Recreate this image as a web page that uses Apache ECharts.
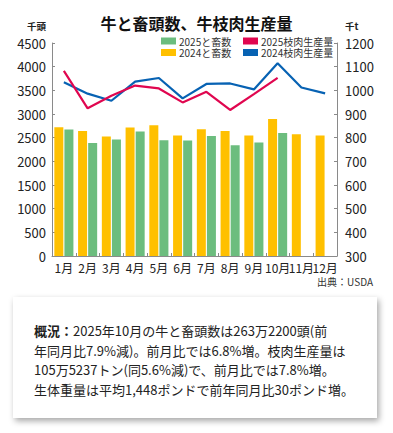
<!DOCTYPE html>
<html><head><meta charset="utf-8">
<script src="https://cdn.jsdelivr.net/npm/echarts@6/dist/echarts.min.js"></script>
<style>html,body{margin:0;padding:0;background:#fff}#c{width:393px;height:433px}</style>
</head><body><div id="c"></div>
<script>
const months = ['1月','2月','3月','4月','5月','6月','7月','8月','9月','10月','11月','12月'];
const slaughter2024 = [2720, 2640, 2525, 2715, 2760, 2545, 2680, 2640, 2545, 2893, 2570, 2545];
const slaughter2025 = [2672, 2385, 2462, 2630, 2448, 2440, 2533, 2342, 2400, 2600, null, null];
const beef2024 = [1034, 986, 956, 1037, 1052, 966, 1027, 1029, 1004, 1114, 1012, 987];
const beef2025 = [1082, 924, 977, 1020, 1008, 949, 994, 917, 984, 1053, null, null];
const leftTicks = {min: 0, max: 4500, interval: 500};
const rightTicks = {min: 300, max: 1200, interval: 100};
const noteLines = [
  '2025年10月の牛と畜頭数は263万2200頭(前',
  '年同月比7.9%減)。前月比では6.8%増。枝肉生産量は',
  '105万5237トン(同5.6%減)で、前月比では7.8%増。',
  '生体重量は平均1,448ポンドで前年同月比30ポンド増。'
];

const FONT = '"Noto Sans CJK JP", "Noto Sans", sans-serif';
const C = {y: '#ffc000', g: '#6cbd7e', r: '#e0064f', b: '#0762b3'};
const chart = echarts.init(document.getElementById('c'), null, {renderer: 'svg'});
const axisLine = {show: true, lineStyle: {color: '#8a8a8a', width: 1}};
const plain = v => String(v);
const legendText = {fontSize: 10, lineHeight: 10, color: '#333', padding: [0, 0, 0, -2]};
chart.setOption({
  backgroundColor: '#fff',
  textStyle: {fontFamily: FONT},
  animation: false,
  title: {text: '牛と畜頭数、牛枝肉生産量', left: 'center', top: 9,
    textStyle: {fontSize: 16, lineHeight: 18, fontWeight: 'bold', color: '#111', fontFamily: FONT}},
  legend: [
    {orient: 'vertical', left: 161, top: 36, padding: 0, itemWidth: 15, itemHeight: 7, itemGap: 1.5,
     icon: 'rect', data: ['2025と畜数', '2024と畜数'], textStyle: legendText},
    {orient: 'vertical', left: 243, top: 36, padding: 0, itemWidth: 15, itemHeight: 7, itemGap: 1.5,
     icon: 'rect', data: ['2025枝肉生産量', '2024枝肉生産量'], textStyle: legendText}
  ],
  grid: {left: 52, right: 56, top: 43, bottom: 177},
  xAxis: {type: 'category', data: months, axisLine: axisLine,
    axisTick: {show: true, inside: true, length: 3, lineStyle: {color: '#8a8a8a'}},
    axisLabel: {interval: 0, fontSize: 12, color: '#222', margin: 5}},
  yAxis: [
    {type: 'value', min: leftTicks.min, max: leftTicks.max, interval: leftTicks.interval,
     name: '千頭', nameLocation: 'end', nameGap: 12,
     nameTextStyle: {fontSize: 9.5, fontWeight: 'bold', color: '#222', align: 'right', padding: [0, 6, 0, 0]},
     axisLine: axisLine, axisTick: {show: true, inside: true, length: 3, lineStyle: {color: '#8a8a8a'}},
     splitLine: {show: false}, axisLabel: {fontSize: 13, color: '#222', margin: 6, formatter: plain}},
    {type: 'value', min: rightTicks.min, max: rightTicks.max, interval: rightTicks.interval,
     name: '千t', nameLocation: 'end', nameGap: 12,
     nameTextStyle: {fontSize: 9.5, fontWeight: 'bold', color: '#222', align: 'left', padding: [0, 0, 0, 8]},
     axisLine: axisLine, axisTick: {show: true, inside: true, length: 3, lineStyle: {color: '#8a8a8a'}},
     splitLine: {show: false}, axisLabel: {fontSize: 13, color: '#222', margin: 8, formatter: plain}}
  ],
  series: [
    {name: '2024と畜数', type: 'bar', data: slaughter2024, barWidth: 9, barGap: '12%',
     itemStyle: {color: C.y}},
    {name: '2025と畜数', type: 'bar', data: slaughter2025, barWidth: 9, barGap: '12%',
     itemStyle: {color: C.g}},
    {name: '2024枝肉生産量', type: 'line', yAxisIndex: 1, data: beef2024, symbol: 'none',
     lineStyle: {color: C.b, width: 2.2}, itemStyle: {color: C.b}},
    {name: '2025枝肉生産量', type: 'line', yAxisIndex: 1, data: beef2025, symbol: 'none',
     lineStyle: {color: C.r, width: 2.2}, itemStyle: {color: C.r}}
  ],
  graphic: [
    {type: 'text', right: 20, top: 276, style: {text: '出典：USDA', fontSize: 10, fill: '#333', fontFamily: FONT}},
    {type: 'rect', left: 13, top: 297, shape: {width: 364, height: 121},
     style: {fill: '#fff', shadowBlur: 6, shadowOffsetX: 2, shadowOffsetY: 3, shadowColor: 'rgba(0,0,0,0.35)'}},
    {type: 'text', left: 34, top: 321, style: {
      text: '{b|概況：}' + noteLines.join('\n'),
      fontSize: 13, lineHeight: 19.5, fill: '#222', fontFamily: FONT,
      rich: {b: {fontWeight: 'bold', fontSize: 13, fill: '#222', fontFamily: FONT}}
    }}
  ]
});
</script></body></html>
